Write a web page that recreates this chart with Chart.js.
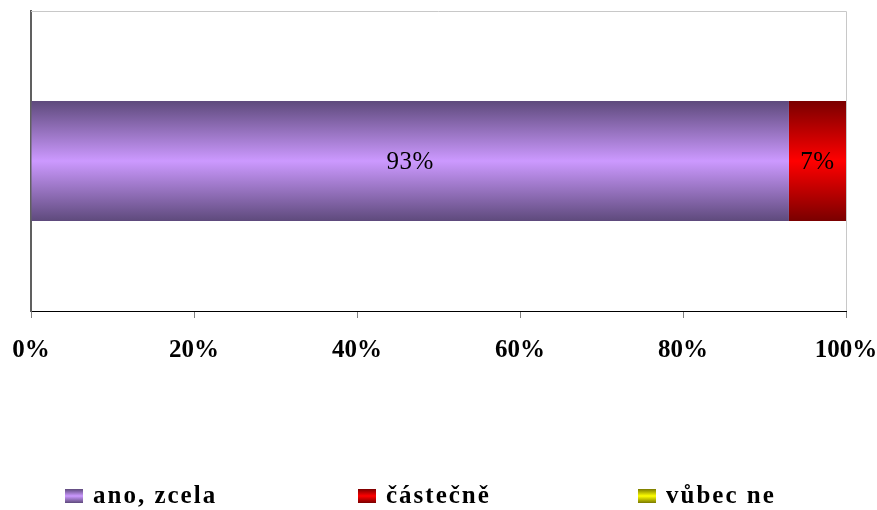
<!DOCTYPE html>
<html>
<head>
<meta charset="utf-8">
<style>
  html, body { margin: 0; padding: 0; background: #fff; }
  #wrap { width: 877px; height: 510px; position: relative; }
</style>
<script src="https://cdn.jsdelivr.net/npm/chart.js@4.4.1/dist/chart.umd.min.js"></script>
</head>
<body>
<div id="wrap"><canvas id="c" width="877" height="510"></canvas></div>
<script>
// Answer shares (percent of respondents)
const categories = [''];
const seriesNames = ['ano, zcela', 'částečně', 'vůbec ne'];
const anoZcela = [93];
const castecne = [7];
const vubecNe = [0];
const tickValues = [0, 20, 40, 60, 80, 100];

// edge / centre colours for each series' vertical shading
const shades = [
  { edge: '#5e4a7c', mid: '#cc99ff' },
  { edge: '#7a0000', mid: '#ff0000' },
  { edge: '#7a7a00', mid: '#ffff00' }
];

const BAR_FRACTION = 0.4;
const SERIF = '"Liberation Serif", "Times New Roman", serif';

function barGradient(ctx, shade) {
  const chart = ctx.chart;
  const area = chart.chartArea;
  if (!area) return shade.mid;
  const yScale = chart.scales.y;
  const cy = yScale.getPixelForValue(ctx.dataIndex || 0);
  const half = (area.bottom - area.top) * BAR_FRACTION / 2;
  const g = chart.ctx.createLinearGradient(0, cy - half, 0, cy + half);
  g.addColorStop(0, shade.edge);
  g.addColorStop(0.5, shade.mid);
  g.addColorStop(1, shade.edge);
  return g;
}

const seriesValues = [anoZcela, castecne, vubecNe];

// wide letter spacing for the bold axis text
const spacing = {
  id: 'spacing',
  beforeInit(chart) { chart.ctx.letterSpacing = '2px'; }
};

// plot frame: light lines on top and right
const framePlugin = {
  id: 'frame',
  beforeDatasetsDraw(chart) {
    const { ctx, chartArea: a } = chart;
    ctx.save();
    ctx.strokeStyle = '#c8c8c8';
    ctx.lineWidth = 1;
    ctx.beginPath();
    ctx.moveTo(a.left, a.top + 0.5);
    ctx.lineTo(a.right + 0.5, a.top + 0.5);
    ctx.lineTo(a.right + 0.5, a.bottom);
    ctx.stroke();
    ctx.restore();
  }
};

// value labels in the middle of each segment
const valueLabels = {
  id: 'valueLabels',
  afterDatasetsDraw(chart) {
    const { ctx } = chart;
    ctx.save();
    ctx.letterSpacing = '0.5px';
    ctx.fillStyle = '#000';
    ctx.font = '25px ' + SERIF;
    ctx.textAlign = 'center';
    ctx.textBaseline = 'middle';
    chart.data.datasets.forEach((ds, i) => {
      const meta = chart.getDatasetMeta(i);
      meta.data.forEach((bar, j) => {
        const v = ds.data[j];
        if (!v) return;
        const x = (bar.x + bar.base) / 2;
        ctx.fillText(v + '%', x, bar.y + 1);
      });
    });
    ctx.restore();
  }
};

// legend row under the chart with shaded swatches
const legendRow = {
  id: 'legendRow',
  afterDraw(chart) {
    const { ctx } = chart;
    const xs = [65, 358, 638];
    const y = 497;
    ctx.save();
    ctx.letterSpacing = '2px';
    ctx.font = 'bold 25px ' + SERIF;
    ctx.textBaseline = 'middle';
    chart.data.datasets.forEach((ds, i) => {
      const sh = shades[i];
      const bx = xs[i], bw = 18, bh = 14, by = y - 8;
      const g = ctx.createLinearGradient(0, by, 0, by + bh);
      g.addColorStop(0, sh.edge);
      g.addColorStop(0.5, sh.mid);
      g.addColorStop(1, sh.edge);
      ctx.fillStyle = g;
      ctx.fillRect(bx, by, bw, bh);
      ctx.fillStyle = '#000';
      ctx.fillText(ds.label, bx + 28, y);
    });
    ctx.restore();
  }
};

new Chart(document.getElementById('c'), {
  type: 'bar',
  data: {
    labels: categories,
    datasets: seriesNames.map((name, i) => ({
      label: name,
      data: seriesValues[i],
      backgroundColor: (ctx) => barGradient(ctx, shades[i]),
      borderWidth: 0,
      categoryPercentage: 1,
      barPercentage: BAR_FRACTION
    }))
  },
  options: {
    indexAxis: 'y',
    responsive: false,
    animation: false,
    devicePixelRatio: 1,
    layout: { padding: { left: 30, right: 31, top: 11, bottom: 126 } },
    plugins: {
      legend: { display: false },
      tooltip: { enabled: false }
    },
    scales: {
      x: {
        stacked: true,
        min: 0,
        max: 100,
        afterBuildTicks(axis) { axis.ticks = tickValues.map(v => ({ value: v })); },
        afterFit(axis) { axis.paddingLeft = 0; axis.paddingRight = 0; },
        ticks: {
          callback: (v) => v + '%',
          color: '#000',
          font: { family: SERIF, size: 25, weight: 'bold' },
          padding: 18,
          maxRotation: 0
        },
        grid: { drawOnChartArea: false, tickLength: 7, color: '#808080', lineWidth: 1 },
        border: { color: '#000', width: 1 }
      },
      y: {
        stacked: true,
        afterFit(axis) { axis.width = 1; },
        ticks: { display: false },
        grid: { display: false },
        border: { color: '#606060', width: 2 }
      }
    }
  },
  plugins: [spacing, framePlugin, valueLabels, legendRow]
});
</script>
</body>
</html>
